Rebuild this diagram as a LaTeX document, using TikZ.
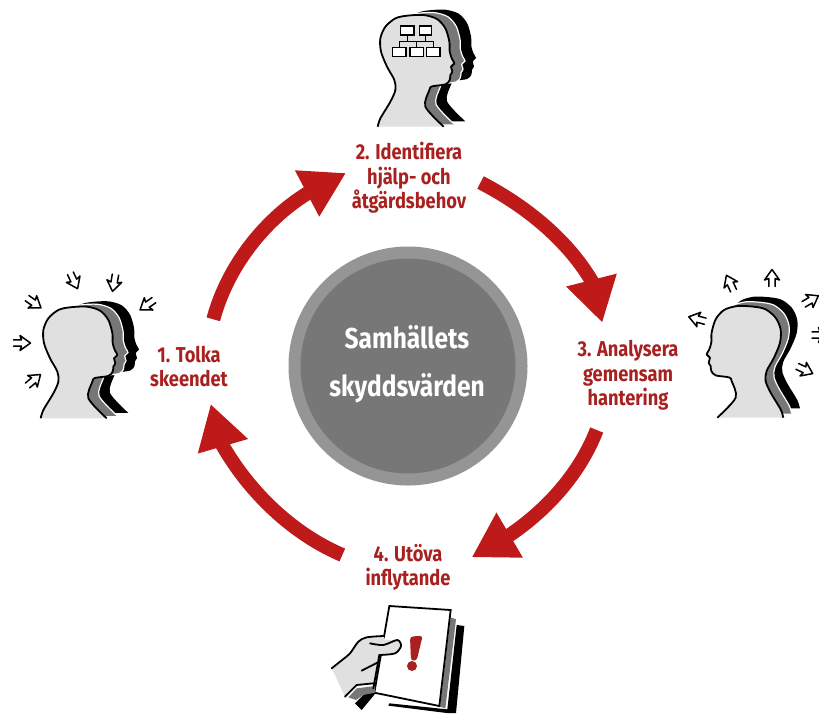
\documentclass[tikz,border=0pt]{standalone}
\usepackage{fontspec}
\setsansfont[BoldFont={Fira Sans Bold},FakeStretch=0.85]{Fira Sans}
\usetikzlibrary{arrows.meta}
\definecolor{cred}{HTML}{BE1A1A}
\definecolor{ctext}{HTML}{A8201F}
\definecolor{cring}{HTML}{959595}
\definecolor{cdisc}{HTML}{777777}
\definecolor{cskin}{HTML}{E0E0E0}
\definecolor{cband}{HTML}{777777}
\tikzset{
  cyclearrow/.style={draw=cred,line width=14pt,-{Triangle[length=44pt,width=49pt,fill=cred]}},
  steplabel/.style={font=\sffamily\bfseries\fontsize{21.5}{24.5}\selectfont,text=ctext,align=center,inner sep=0pt},
  centerlabel/.style={font=\sffamily\bfseries\fontsize{28.8}{48}\selectfont,text=white,align=center,inner sep=0pt},
  smallarrow/.style={draw=black,line width=1.5pt,line join=round,line cap=round},
  chartbox/.style={draw=black,fill=white,line width=1.6pt},
  chartline/.style={draw=black,line width=1.6pt},
  zoomunits/.style={x=0.33333pt,y=-0.33333pt}
}
\newcommand\headline{plot[smooth,tension=.5] coordinates {(0,0) (8,-25) (38,-75) (53,-110) (50,-140) (28,-180) (10,-225) (8,-265) (23,-300) (53,-325) (88,-333) (138,-335) (178,-323) (203,-295) (215,-255) (216,-225) (223,-203) (230,-190) (220,-180) (224,-165) (218,-155) (216,-140) (203,-127) (163,-121) (155,-110) (143,-60) (198,0)}}
\newcommand\headshape[6]{%
  \begin{scope}[shift={(#1,#2)},xscale=#3,zoomunits]
    \fill[black,shift={(#5*1pt/3,#6*1pt/3)}] \headline -- cycle;
    \fill[cband,shift={(#4*1pt/3,#6*0.45pt/3)}] \headline -- cycle;
    \draw[white,line width=1.2pt,shift={(#4*1pt/3,#6*0.45pt/3)}] \headline;
    \fill[cskin] \headline -- cycle;
    \draw[black,line width=1.8pt,line join=round] \headline;
  \end{scope}}
\newcommand\sarrow[3]{%
  \draw[smallarrow,shift={(#1,#2)},rotate=#3] (-8.5,-3.2) -- (-0.5,-3.2) -- (-2,-7.5) -- (8.5,0) -- (-2,7.5) -- (-0.5,3.2) -- (-8.5,3.2);}
\begin{document}
\begin{tikzpicture}[x=1pt,y=-1pt]
\useasboundingbox (0,0) rectangle (819,713);
\clip (0,0) rectangle (819,713);
% central disc
\node[circle,fill=cring,minimum size=239pt,inner sep=0pt] (ring) at (408,366) {};
\node[circle,fill=cdisc,minimum size=215pt,inner sep=0pt] (disc) at (408,366) {};
\node[centerlabel] (center) at (407,364) {Samhällets\\skyddsvärden};
% step labels
\node[steplabel] (step1) at (189,366.5) {1. Tolka\\skeendet};
\node[steplabel] (step2) at (409,178) {2. Identifiera\\hjälp- och\\åtgärdsbehov};
\node[steplabel] (step3) at (628,375.5) {3. Analysera\\gemensam\\hantering};
\node[steplabel] (step4) at (408,567.5) {4. Utöva\\inflytande};
% cycle arrows
\coordinate (a1s) at (213.3,319.3); \coordinate (a1m) at (307,193.5); \coordinate (a1t) at (346,173);
\coordinate (a2s) at (480.5,182.5); \coordinate (a2m) at (591.7,281); \coordinate (a2t) at (602.3,322.7);
\coordinate (a3s) at (596.7,430);   \coordinate (a3m) at (509.3,535.3); \coordinate (a3t) at (471.7,557.3);
\coordinate (a4s) at (342.3,555);   \coordinate (a4m) at (222.8,445.8); \coordinate (a4t) at (210.7,404);
\draw[cyclearrow] (a1s) .. controls (227,268) and (263,221) .. (a1m) -- (a1t);
\draw[cyclearrow] (a2s) .. controls (524,205) and (566,238) .. (a2m) -- (a2t);
\draw[cyclearrow] (a3s) .. controls (580,473) and (548,509) .. (a3m) -- (a3t);
\draw[cyclearrow] (a4s) .. controls (293,534) and (250,493) .. (a4m) -- (a4t);
% heads
\headshape{40.7}{418.3}{1}{32}{65}{16}
\headshape{377.7}{126.7}{1}{32}{65}{16}
\headshape{783.3}{417.7}{-1}{-25}{-50}{28}
% small arrows, head 1
\sarrow{22}{343}{0}
\sarrow{34}{380}{40}
\sarrow{34}{303}{-35}
\sarrow{74}{281}{-65}
\sarrow{114}{283}{-100}
\sarrow{147}{305}{-145}
% small arrows, head 3
\sarrow{697}{319}{165}
\sarrow{730}{283}{115}
\sarrow{772}{278}{90}
\sarrow{811}{300}{30}
\sarrow{820.5}{335}{0}
\sarrow{805}{370}{-25}
% chart in head 2
\begin{scope}[shift={(340,0)},zoomunits]
  \draw[chartline] (202,105) -- (202,125) (256,105) -- (256,125) (178,142) -- (178,125) -- (280,125) -- (280,142) (229,125) -- (229,142);
  \draw[chartbox] (182,78) rectangle (222,105);
  \draw[chartbox] (238,78) rectangle (275,105);
  \draw[chartbox] (158,142) rectangle (198,170);
  \draw[chartbox] (210,142) rectangle (250,170);
  \draw[chartbox] (260,142) rectangle (300,170);
\end{scope}
% document and hand
\begin{scope}[shift={(320,540)},zoomunits]
  \fill[black] (410,255) -- (433,258) -- (408,519) -- (380,519) -- (205,497) -- (208,490) -- (382,508) -- cycle;
  \fill[cband] (392,232) -- (408,238) -- (376,505) -- (360,500) -- cycle;
  \draw[black,line width=1.8pt,fill=white,line join=miter] (208,198) -- (392,210) -- (358,498) -- (163,458) -- cycle;
  \fill[ctext,rounded corners=3pt] (270,290) -- (308,287) -- (290,362) -- (273,362) -- cycle;
  \fill[ctext] (276,378) circle[radius=15];
  \fill[black] (105,490) -- (145,450) -- (168,458) -- (125,510) -- cycle;
  \fill[cband] (85,472) -- (110,445) -- (165,438) -- (165,458) -- (130,465) -- (108,480) -- cycle;
  \fill[cskin] (35,385) -- (60,365) -- (90,340) -- (115,305) -- (140,292) -- (190,288) -- (197,300) -- (235,300) -- (243,318) -- (225,340) -- (178,345) -- (172,370) -- (165,430) -- (110,435) -- (75,470) -- cycle;
  \draw[black,line width=1.8pt,line join=round,line cap=round] plot[smooth,tension=.5] coordinates {(35,385) (60,365) (90,340) (115,305) (140,292) (190,288)};
  \draw[black,line width=1.8pt,line join=round,line cap=round] plot[smooth,tension=.5] coordinates {(150,310) (190,315) (232,300) (243,318) (225,340) (178,345)};
  \draw[black,line width=1.8pt,line cap=round] (178,345) -- (160,445);
  \draw[black,line width=1.8pt,line cap=round] (125,392) -- (172,368);
  \draw[black,line width=1.8pt,line cap=round] (75,470) -- (110,435) -- (160,430);
\end{scope}
\end{tikzpicture}
\end{document}
